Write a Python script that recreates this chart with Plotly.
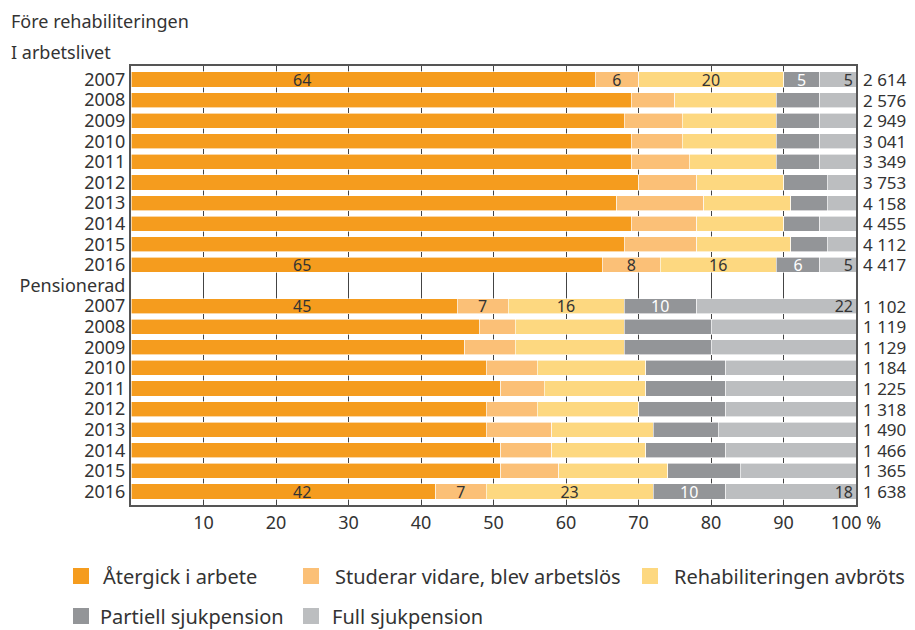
import plotly.graph_objects as go

# ====== Data (andel %, efter status före rehabiliteringen) ======
years = ["2007", "2008", "2009", "2010", "2011", "2012", "2013", "2014", "2015", "2016"]

series = ["Återgick i arbete", "Studerar vidare, blev arbetslös", "Rehabiliteringen avbröts",
          "Partiell sjukpension", "Full sjukpension"]
colors = ["#F59C1E", "#FBC077", "#FDD880", "#939598", "#BCBEC0"]

# I arbetslivet
arb_atergick = [64, 69, 68, 69, 69, 70, 67, 69, 68, 65]
arb_studerar = [6, 6, 8, 7, 8, 8, 12, 9, 10, 8]
arb_avbrots = [20, 14, 13, 13, 12, 12, 12, 12, 13, 16]
arb_partiell = [5, 6, 6, 6, 6, 6, 5, 5, 5, 6]
arb_full = [5, 5, 5, 5, 5, 4, 4, 5, 4, 5]
arb_antal = ["2 614", "2 576", "2 949", "3 041", "3 349", "3 753", "4 158", "4 455", "4 112", "4 417"]

# Pensionerad
pen_atergick = [45, 48, 46, 49, 51, 49, 49, 51, 51, 42]
pen_studerar = [7, 5, 7, 7, 6, 7, 9, 7, 8, 7]
pen_avbrots = [16, 15, 15, 15, 14, 14, 14, 13, 15, 23]
pen_partiell = [10, 12, 12, 11, 11, 12, 9, 11, 10, 10]
pen_full = [22, 20, 20, 18, 18, 18, 19, 18, 16, 18]
pen_antal = ["1 102", "1 119", "1 129", "1 184", "1 225", "1 318", "1 490", "1 466", "1 365", "1 638"]

# ====== Kategorier ======
cats_arb = ["A" + y for y in years]
cats_pen = ["P" + y for y in years]
categories = cats_arb + ["Pensionerad"] + cats_pen
ticktext = years + ["Pensionerad"] + years

arb = [arb_atergick, arb_studerar, arb_avbrots, arb_partiell, arb_full]
pen = [pen_atergick, pen_studerar, pen_avbrots, pen_partiell, pen_full]

FONT = "Noto Sans"
TXT = "#333333"


def label_list(vals):
    # etiketter bara första och sista året
    return [str(v) if i in (0, len(vals) - 1) else "" for i, v in enumerate(vals)]


fig = go.Figure()
for i, name in enumerate(series):
    xs = arb[i] + [None] + pen[i]
    if i == 0:
        txt = [""] * len(xs)
    else:
        txt = label_list(arb[i]) + [""] + label_list(pen[i])
    fig.add_trace(go.Bar(
        y=categories, x=xs, name=name, orientation="h",
        marker=dict(color=colors[i], line=dict(color="white", width=0.6)),
        text=txt, textposition="inside",
        insidetextanchor="end" if i == 4 else "middle",
        textangle=0, constraintext="none",
        textfont=dict(size=16, color="white" if i == 3 else TXT),
        showlegend=False, hoverinfo="x+name",
    ))

# ====== Layout (koordinater i sidans pixlar, sidan har 8 px marginal) ======
W, H = 915, 630
OFF = 8
ml, mr, mt, mb = 131, 59, 66, 125
pw, ph = W - ml - mr, H - mt - mb


def px_to_paper(xp, yp):
    return (xp - ml) / pw, (H - mb - yp) / ph


annotations = []

# orange etiketter
for cat_list, vals in [(cats_arb, arb_atergick), (cats_pen, pen_atergick)]:
    for j in (0, len(vals) - 1):
        annotations.append(dict(x=23.6, y=cat_list[j], xref="x", yref="y", text=str(vals[j]),
                                showarrow=False, font=dict(size=16, color=TXT)))

# antal till höger
for cat_list, antal in [(cats_arb, arb_antal), (cats_pen, pen_antal)]:
    for c, a in zip(cat_list, antal):
        annotations.append(dict(x=px_to_paper(861, 0)[0], y=c, xref="paper", yref="y", text=a,
                                xanchor="left", showarrow=False, font=dict(size=17, color=TXT)))

# rubriker
for text, (hx, hy) in [("Före rehabiliteringen", (9, 21)), ("I arbetslivet", (9, 52))]:
    px, py = px_to_paper(hx, hy)
    annotations.append(dict(x=px, y=py, xref="paper", yref="paper", text=text,
                            xanchor="left", yanchor="middle", showarrow=False,
                            font=dict(size=18, color=TXT)))

# manuell legend: (ruta x, text x, y)
legend_pos = [(73, 101, 576), (303, 333, 576), (642, 672, 576), (73, 98, 616), (303, 330, 616)]
shapes = []
for (lx, tx_px, ly), name, col in zip(legend_pos, series, colors):
    x0, y0 = px_to_paper(lx, ly - 8)
    x1, y1 = px_to_paper(lx + 16, ly + 8)
    shapes.append(dict(type="rect", xref="paper", yref="paper", x0=x0, x1=x1, y0=y1, y1=y0,
                       fillcolor=col, line=dict(width=0)))
    tx, ty = px_to_paper(tx_px, ly)
    annotations.append(dict(x=tx, y=ty, xref="paper", yref="paper", text=name, xanchor="left",
                            yanchor="middle", showarrow=False,
                            font=dict(size=20, color=TXT)))

fig.update_layout(
    barmode="stack", bargap=0.27,
    width=W - OFF, height=H - OFF,
    margin=dict(l=ml - OFF, r=mr, t=mt - OFF, b=mb, autoexpand=False),
    plot_bgcolor="white", paper_bgcolor="white",
    font=dict(family=FONT, size=18, color=TXT),
    annotations=annotations, shapes=shapes,
    showlegend=False,
)
fig.update_xaxes(
    range=[0, 100], tickvals=list(range(10, 101, 10)),
    ticktext=[str(v) for v in range(10, 100, 10)] + ["100 %"],
    showgrid=True, gridcolor="#444444", gridwidth=1,
    showline=True, linecolor="#555555", linewidth=2, mirror=True,
    ticks="", zeroline=False, tickfont=dict(size=18), automargin=False,
)
fig.update_yaxes(
    categoryorder="array", categoryarray=categories,
    tickvals=categories, ticktext=ticktext, autorange="reversed",
    showline=True, linecolor="#555555", linewidth=2, mirror=True,
    ticks="", showgrid=False, tickfont=dict(size=18), automargin=False,
)

fig.write_html("out.html")
